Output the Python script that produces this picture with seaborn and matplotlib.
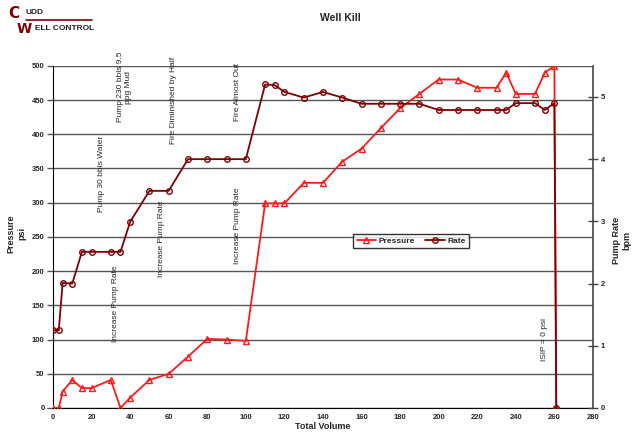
import matplotlib
matplotlib.use("Agg")
import matplotlib.pyplot as plt
import seaborn as sns
import pandas as pd
from matplotlib.ticker import MultipleLocator

sns.set_style("white")
plt.rcParams['font.family'] = ['Liberation Sans', 'DejaVu Sans']

# data
volume = [0, 3, 5, 10, 15, 20, 30, 35, 40, 50, 60, 70, 80, 90, 100, 110, 115, 120,
          130, 140, 150, 160, 170, 180, 190, 200, 210, 220, 230, 235, 240, 250, 255, 260, 261]
pressure = [0, 0, 24, 41, 29, 29, 41, 0, 15, 41, 50, 75, 101, 100, 98, 299, 299, 299,
            329, 329, 360, 379, 409, 438, 459, 480, 480, 468, 468, 490, 459, 459, 490, 500, 0]
rate = [1.25, 1.25, 2.01, 2.0, 2.51, 2.51, 2.51, 2.51, 2.99, 3.49, 3.49, 4.0, 4.0, 4.0, 4.0,
        5.2, 5.19, 5.08, 4.99, 5.08, 4.99, 4.89, 4.89, 4.89, 4.89, 4.79, 4.79, 4.79, 4.79,
        4.79, 4.9, 4.9, 4.79, 4.9, 0]

notes = ["Increase Pump Rate", "Pump 30 bbls Water", "Pump 230 bbls 9.5\nppg Mud",
         "Increase Pump Rate", "Fire Diminished by Half", "Increase Pump Rate",
         "Fire Almost Out", "ISIP = 0 psi"]
note_x = [32.5, 25, 37, 56.5, 62.5, 95.5, 95.5, 255]
note_y = [152, 342, 469, 247, 449, 266, 462, 100]

df = pd.DataFrame({"volume": volume, "pressure": pressure, "rate": rate})

red = "#FF1A1A"
maroon = "#800000"

fig = plt.figure(figsize=(6.33, 4.32), dpi=100)
ax = fig.add_axes([0.0837, 0.0556, 0.853, 0.792])
ax2 = ax.twinx()

sns.lineplot(data=df, x="volume", y="pressure", ax=ax, sort=False, color=red,
             marker="^", markersize=4.5, markerfacecolor="none", markeredgecolor=red,
             markeredgewidth=1, linewidth=1.3, label="Pressure", legend=False, zorder=3)
sns.lineplot(data=df, x="volume", y="rate", ax=ax2, sort=False, color=maroon,
             marker="o", markersize=4, markerfacecolor="none", markeredgecolor=maroon,
             markeredgewidth=1, linewidth=1.3, label="Rate", legend=False, zorder=3)

ax.set_xlim(0, 280)
ax.set_ylim(0, 500)
ax2.set_ylim(0, 5.5)
ax.xaxis.set_major_locator(MultipleLocator(20))
ax.xaxis.set_minor_locator(MultipleLocator(4))
ax.yaxis.set_major_locator(MultipleLocator(50))
ax2.yaxis.set_major_locator(MultipleLocator(1))

ax.grid(axis="y", color="#555555", linewidth=1)
ax.set_axisbelow(True)

for a in (ax, ax2):
    for s in a.spines.values():
        s.set_visible(False)
ax.spines["left"].set_visible(True)
ax.spines["bottom"].set_visible(True)
ax.spines["left"].set_color("black")
ax.spines["bottom"].set_color("black")
ax2.spines["right"].set_visible(True)
ax2.spines["right"].set_color("#444444")
ax2.spines["right"].set_linewidth(1.2)

ax.tick_params(axis="x", which="major", direction="inout", length=5, width=1,
               labelsize=5.5, pad=2, color="black")
ax.tick_params(axis="x", which="minor", direction="inout", length=4, width=1, color="black")
ax.tick_params(axis="y", direction="out", length=4, width=1, labelsize=5.5, pad=2,
               left=True, color="#555555")
ax2.tick_params(axis="y", direction="inout", length=7, width=1, labelsize=5.5, pad=2,
                color="#444444")
for lab in ax.get_xticklabels() + ax.get_yticklabels() + ax2.get_yticklabels():
    lab.set_fontweight("bold")

ax.set_xlabel("Total Volume", fontsize=6.5, fontweight="bold")
ax.set_ylabel("Pressure\npsi", fontsize=6.5, fontweight="bold")
ax2.set_ylabel("Pump Rate\nbpm", fontsize=6.5, fontweight="bold")
ax.xaxis.set_label_coords(0.5, -0.04)
ax.yaxis.set_label_coords(-0.05, 0.51)
ax2.yaxis.set_label_coords(1.035, 0.49)

for txt, xv, yv in zip(notes, note_x, note_y):
    ax.text(xv, yv, txt, rotation=90, ha="center", va="center", fontsize=6,
            clip_on=False, zorder=5)

h1, l1 = ax.get_legend_handles_labels()
h2, l2 = ax2.get_legend_handles_labels()
leg = ax2.legend(h1 + h2, l1 + l2, loc="center", bbox_to_anchor=(0.663, 0.488), ncol=2,
                 fontsize=6, frameon=True, fancybox=False, edgecolor="black",
                 borderpad=0.4, handlelength=2.3, columnspacing=1.3, handletextpad=0.3)
leg.get_frame().set_linewidth(1)
for t in leg.get_texts():
    t.set_fontweight("bold")

fig.text(340 / 633, 1 - 18 / 432, "Well Kill", ha="center", va="center",
         fontsize=7.5, fontweight="bold")

# logo
fig.text(8 / 633, 1 - 13 / 432, "C", color=maroon, fontsize=11, fontweight="bold",
         ha="left", va="center", family="DejaVu Sans")
fig.text(26 / 633, 1 - 13 / 432, "UDD", color="#222222", fontsize=6, fontweight="bold",
         ha="left", va="center")
fig.add_artist(plt.Line2D([26 / 633, 92 / 633], [1 - 20 / 432, 1 - 20 / 432],
                          color=maroon, linewidth=1.2))
fig.text(17 / 633, 1 - 29 / 432, "W", color=maroon, fontsize=10, fontweight="bold",
         ha="left", va="center", family="DejaVu Sans")
fig.text(35 / 633, 1 - 29 / 432, "ELL CONTROL", color="#222222", fontsize=6,
         fontweight="bold", ha="left", va="center")

fig.savefig("out.png", dpi=100)
